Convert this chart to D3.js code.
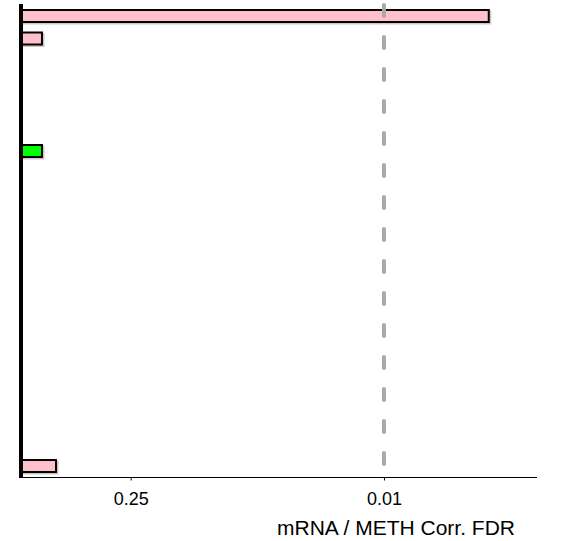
<!DOCTYPE html>
<html>
<head>
<meta charset="utf-8">
<script src="https://cdn.jsdelivr.net/npm/d3@7"></script>
<style>
  html, body { margin: 0; padding: 0; background: #fff; }
  svg { display: block; font-family: "Liberation Sans", Arial, sans-serif; }
</style>
</head>
<body>
<svg id="chart" width="563" height="541"></svg>
<script>
// ---- data ----
const categories = ["C1","C2","C3","C4","C5","C6","C7","C8","C9","C10","C11",
                    "C12","C13","C14","C15","C16","C17","C18","C19","C20","C21"];
const fdrValues = [0.00264, 0.772, 1, 1, 1, 1, 0.772, 1, 1, 1, 1,
                   1, 1, 1, 1, 1, 1, 1, 1, 1, 0.646];
const barColors = ["pink","pink","pink","pink","pink","pink","lime","pink","pink","pink","pink",
                   "pink","pink","pink","pink","pink","pink","pink","pink","pink","pink"];
const tickValues = [0.25, 0.01];
const tickLabels = ["0.25", "0.01"];
const thresholdFdr = 0.01;
const axisTitle = "mRNA / METH Corr. FDR";

// ---- scales ----
const svg = d3.select("#chart");
const x = d3.scaleLog().domain([1, 0.00143]).range([21.6, 537]);
const y = d3.scaleBand().domain(categories).range([4.75, 477.25])
  .paddingInner(0.467).paddingOuter(0.2335);

const rows = categories.map((c, i) => ({ cat: c, fdr: fdrValues[i], color: barColors[i] }))
  .filter(d => d.fdr < 1);

// shadows
svg.append("g").selectAll("rect").data(rows).join("rect")
  .attr("x", x(1) + 1.5)
  .attr("y", d => y(d.cat) + 1.5)
  .attr("width", d => x(d.fdr) - x(1))
  .attr("height", y.bandwidth())
  .attr("fill", "none")
  .attr("stroke", "#c8c8c8")
  .attr("stroke-width", 2);

// bars
svg.append("g").selectAll("rect").data(rows).join("rect")
  .attr("x", x(1))
  .attr("y", d => y(d.cat))
  .attr("width", d => x(d.fdr) - x(1))
  .attr("height", y.bandwidth())
  .attr("fill", d => d.color === "lime" ? "#00ff00" : "#ffc0cb")
  .attr("stroke", "#000")
  .attr("stroke-width", 2);

// threshold dashed line
svg.append("line")
  .attr("x1", x(thresholdFdr)).attr("x2", x(thresholdFdr))
  .attr("y1", 5).attr("y2", 472)
  .attr("stroke", "#a9a9a9")
  .attr("stroke-width", 4)
  .attr("stroke-linecap", "round")
  .attr("stroke-dasharray", "11,21");

// x axis
const xAxis = d3.axisBottom(x)
  .tickValues(tickValues)
  .tickFormat((d, i) => tickLabels[i])
  .tickSizeOuter(0)
  .tickSizeInner(3)
  .tickPadding(12);
const gx = svg.append("g").attr("transform", "translate(0,477.5)").call(xAxis);
gx.select(".domain").attr("d", `M20,0H${x.range()[1]}`).attr("stroke", "#000").attr("stroke-width", 1);
gx.selectAll(".tick line").attr("stroke", "#000");
gx.selectAll(".tick text")
  .attr("font-family", "'Liberation Sans', Arial, sans-serif")
  .attr("font-size", 18)
  .attr("fill", "#000");

// vertical baseline
svg.append("line")
  .attr("x1", x(1) - 0.6).attr("x2", x(1) - 0.6)
  .attr("y1", 4).attr("y2", 478)
  .attr("stroke", "#000")
  .attr("stroke-width", 4);

// title
svg.append("text")
  .attr("x", 515).attr("y", 535)
  .attr("text-anchor", "end")
  .attr("font-size", 21)
  .attr("fill", "#000")
  .text(axisTitle);
</script>
</body>
</html>
